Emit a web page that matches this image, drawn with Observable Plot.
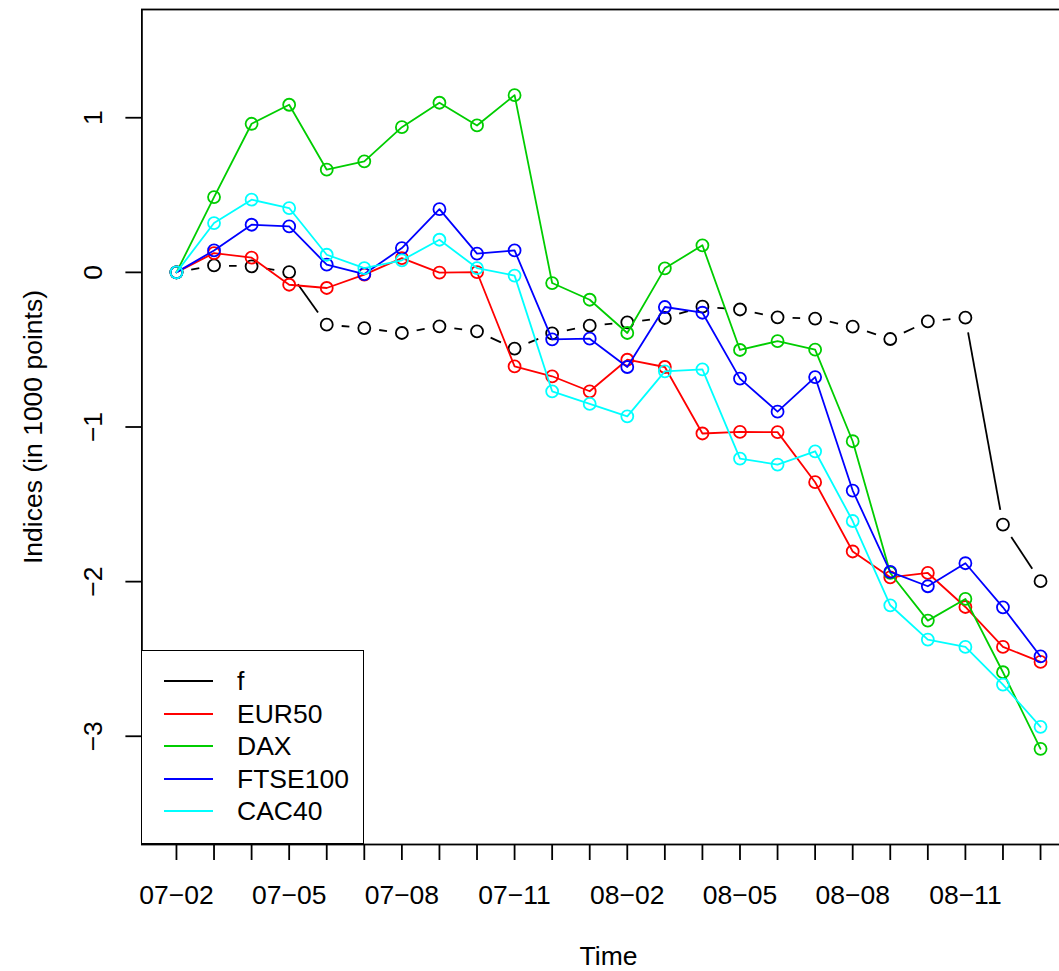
<!DOCTYPE html>
<html>
<head>
<meta charset="utf-8">
<script src="https://cdn.jsdelivr.net/npm/d3@7"></script>
<script src="https://cdn.jsdelivr.net/npm/@observablehq/plot@0.6"></script>
<style>
  html, body { margin: 0; padding: 0; background: #fff; overflow: hidden; }
  #wrap { position: relative; width: 1059px; height: 971px; overflow: hidden; }
  #wrap svg { overflow: hidden !important; display: block; }
  #wrap svg g[aria-label$="-axis tick"] path, #wrap svg .tick line { stroke-width: 1.8px; }
  .legend { position: absolute; left: 141px; top: 650px; width: 223px; height: 194px;
            box-sizing: border-box; border: 1.8px solid #000; background: #fff;
            font-family: "Liberation Sans", Arial, sans-serif; font-size: 26.5px; color: #000; }
  .legend .row { position: absolute; left: 0; height: 32.4px; line-height: 32.4px; width: 100%; }
  .legend .sw { position: absolute; left: 22px; top: 15.2px; width: 49px; height: 0; border-top: 2px solid #000; }
  .legend .lab { position: absolute; left: 95px; top: 0; white-space: pre; }
</style>
</head>
<body>
<div id="wrap"></div>
<script>
// ---- data (values in 1000 points) ----
const months = ["07−02","07−03","07−04","07−05","07−06","07−07","07−08","07−09","07−10","07−11","07−12","08−01",
                "08−02","08−03","08−04","08−05","08−06","08−07","08−08","08−09","08−10","08−11","08−12","09−01"];
const f       = [0, 0.045, 0.039, 0.002, -0.338, -0.360, -0.392, -0.349, -0.381, -0.493, -0.394, -0.345,
                 -0.323, -0.295, -0.222, -0.240, -0.291, -0.299, -0.351, -0.431, -0.317, -0.293, -1.631, -1.997];
const EUR50   = [0, 0.125, 0.095, -0.080, -0.101, -0.015, 0.092, -0.002, 0.001, -0.608, -0.672, -0.769,
                 -0.565, -0.612, -1.042, -1.032, -1.033, -1.357, -1.805, -1.972, -1.944, -2.164, -2.422, -2.519];
const DAX     = [0, 0.487, 0.961, 1.084, 0.664, 0.718, 0.939, 1.097, 0.950, 1.146, -0.069, -0.177,
                 -0.392, 0.026, 0.175, -0.502, -0.444, -0.500, -1.092, -1.944, -2.252, -2.112, -2.586, -3.081];
const FTSE100 = [0, 0.142, 0.308, 0.297, 0.050, -0.011, 0.157, 0.409, 0.121, 0.142, -0.433, -0.429,
                 -0.612, -0.224, -0.261, -0.687, -0.901, -0.677, -1.411, -1.937, -2.030, -1.881, -2.166, -2.484];
const CAC40   = [0, 0.319, 0.470, 0.416, 0.114, 0.028, 0.078, 0.211, 0.028, -0.021, -0.769, -0.851,
                 -0.931, -0.640, -0.627, -1.204, -1.243, -1.157, -1.608, -2.153, -2.375, -2.422, -2.666, -2.939];
const seriesNames  = ["f", "EUR50", "DAX", "FTSE100", "CAC40"];
const seriesColors = ["#000000", "#FF0000", "#00CD00", "#0000FF", "#00FFFF"];
const yTicks = [-3, -2, -1, 0, 1];
const yLimits = [-3.5, 1.5];
const labelEvery = 3;
const xTitle = "Time";
const yTitle = "Indices (in 1000 points)";

// ---- build tables ----
const seriesValues = [f, EUR50, DAX, FTSE100, CAC40];
const toRows = (vals) => vals.map((v, i) => ({i, v}));
const fSegs = f.slice(1).map((v, k) => ({i1: k, v1: f[k], i2: k + 1, v2: v}));
const idx = months.map((_, i) => i);
const n = months.length;
const xPad = 0.04 * (n - 1);
const yPad = 0.04 * (yLimits[1] - yLimits[0]);
const minus = (d) => String(d).replace("-", "\u2212");

const FONT = "'Liberation Sans', Arial, Helvetica, sans-serif";
const LW = 1.8;

const marks = [
  Plot.frame({stroke: "#000", strokeWidth: LW}),
  // f: type "b" (line broken around points)
  Plot.arrow(fSegs, {x1: "i1", y1: "v1", x2: "i2", y2: "v2", stroke: seriesColors[0], strokeWidth: LW,
                     headLength: 0, insetStart: 15, insetEnd: 15, strokeLinecap: "butt"}),
  Plot.dot(toRows(f), {x: "i", y: "v", r: 6, stroke: seriesColors[0], strokeWidth: LW})
];
for (let s = 1; s < seriesNames.length; s++) {
  const rows = toRows(seriesValues[s]);
  marks.push(Plot.line(rows, {x: "i", y: "v", stroke: seriesColors[s], strokeWidth: LW}));
  marks.push(Plot.dot(rows, {x: "i", y: "v", r: 6, stroke: seriesColors[s], strokeWidth: LW}));
}
marks.push(
  Plot.text(yTicks, {y: (d) => d, text: minus, frameAnchor: "left", rotate: -90, dx: -39.5,
                     textAnchor: "middle", lineAnchor: "bottom", fontSize: 26.5, fill: "#000"}),
  Plot.text([yTitle], {text: (d) => d, frameAnchor: "left", rotate: -90, dx: -100,
                       textAnchor: "middle", lineAnchor: "bottom", fontSize: 26.5, fill: "#000"}),
  Plot.text([xTitle], {text: (d) => d, frameAnchor: "bottom", dy: 120,
                       textAnchor: "middle", lineAnchor: "bottom", fontSize: 26.5, fill: "#000"})
);

const chart = Plot.plot({
  width: 1059,
  height: 971,
  marginLeft: 141.4,
  marginRight: -15.6,
  marginTop: 9,
  marginBottom: 127,
  style: {fontFamily: FONT, fontSize: "26.5px", background: "#fff", color: "#000", overflow: "hidden"},
  x: {domain: [-xPad, n - 1 + xPad], ticks: idx, tickSize: 16, tickPadding: 25,
      tickFormat: (i) => (i % labelEvery === 0 ? months[i] : ""), label: null},
  y: {domain: [yLimits[0] - yPad, yLimits[1] + yPad], ticks: yTicks, tickSize: 16,
      tickFormat: () => "", label: null},
  marks
});
const wrap = document.getElementById("wrap");
wrap.appendChild(chart);

// ---- legend (inside the plot's lower-left corner, as in the reference) ----
const leg = document.createElement("div");
leg.className = "legend";
seriesNames.forEach((name, k) => {
  const row = document.createElement("div");
  row.className = "row";
  row.style.top = (14.3 + k * 32.4) + "px";
  const sw = document.createElement("span");
  sw.className = "sw";
  sw.style.borderTopColor = seriesColors[k];
  const lab = document.createElement("span");
  lab.className = "lab";
  lab.textContent = name;
  row.appendChild(sw);
  row.appendChild(lab);
  leg.appendChild(row);
});
wrap.appendChild(leg);
</script>
</body>
</html>
